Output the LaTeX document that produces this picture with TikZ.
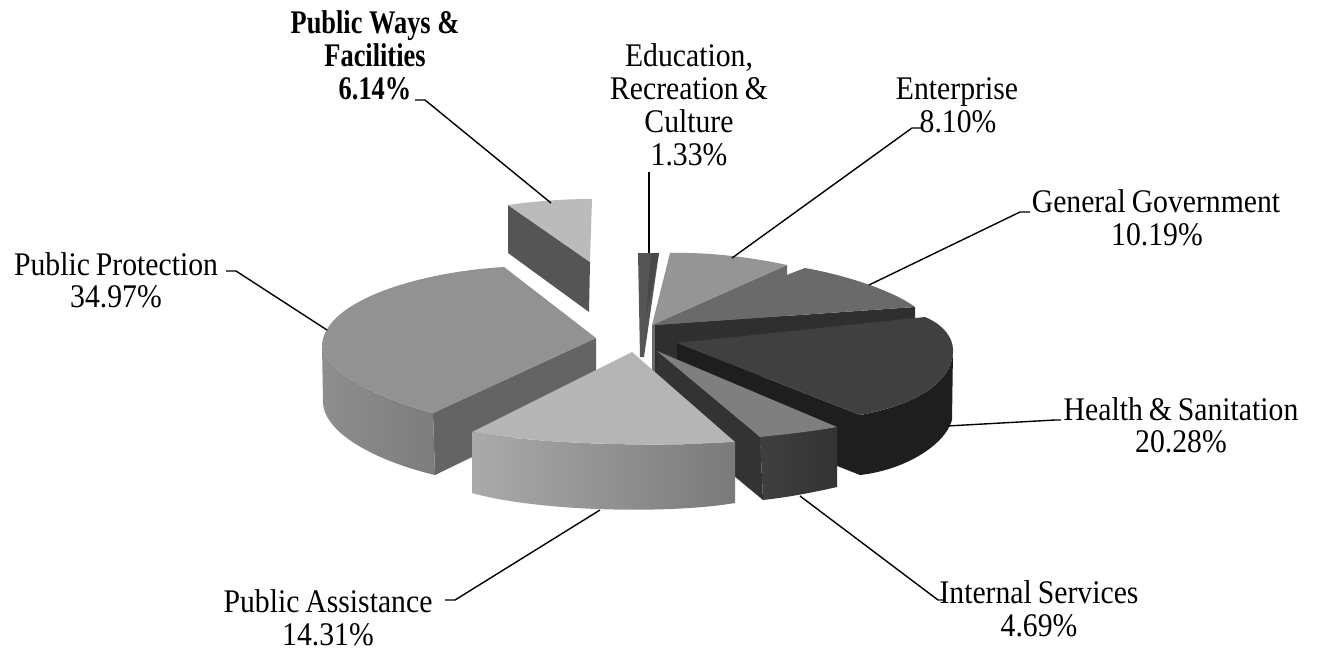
\documentclass[tikz,border=0pt]{standalone}
\usepackage{fontspec}
\setmainfont{Liberation Serif}[WordSpace=0.8, FakeStretch=0.9]
\newfontfamily\boldlblfont{Liberation Serif}[FakeStretch=0.8]
\definecolor{pwtop}{HTML}{BBBBBB}
\definecolor{pwside}{HTML}{555555}
\definecolor{edu}{HTML}{555555}
\definecolor{enttop}{HTML}{959595}
\definecolor{entside}{HTML}{6A6A6A}
\definecolor{ggtop}{HTML}{6A6A6A}
\definecolor{ggside}{HTML}{2F2F2F}
\definecolor{hstop}{HTML}{404040}
\definecolor{hsside}{HTML}{1E1E1E}
\definecolor{istop}{HTML}{7F7F7F}
\definecolor{isside}{HTML}{333333}
\definecolor{isfrontA}{HTML}{3F3F3F}
\definecolor{isfrontB}{HTML}{333333}
\definecolor{pptop}{HTML}{929292}
\definecolor{ppcut}{HTML}{646464}
\definecolor{ppsideA}{HTML}{8E8E8E}
\definecolor{ppsideB}{HTML}{7C7C7C}
\definecolor{patop}{HTML}{B5B5B5}
\definecolor{pasideA}{HTML}{AAAAAA}
\definecolor{pasideB}{HTML}{7A7A7A}
\begin{document}
\begin{tikzpicture}[x=1pt,y=-1pt,
  lbl/.style={font=\fontsize{33}{33}\selectfont, inner sep=0pt, anchor=base},
  lblb/.style={font=\boldlblfont\fontsize{33}{33}\selectfont\bfseries, inner sep=0pt, anchor=base},
  leader/.style={draw=black, line width=1.4pt}]
\useasboundingbox (0,0) rectangle (1321,664);
\fill[white] (0,0) rectangle (1321,664);

% ---- Public Ways & Facilities (exploded, back left)
\fill[pwside] (508,205) -- (590,262) -- (589,312) -- (508,253) -- cycle;
\fill[pwtop] (508,205) .. controls (535,201) and (565,199) .. (592,199) -- (590,262) -- cycle;

% ---- Education, Recreation & Culture
\fill[edu] (638,253) -- (659,253) -- (644,357) -- (640,357) -- cycle;
\fill[edu!85!black] (651,253) -- (659,253) -- (646,318) -- cycle;

% ---- Enterprise
\fill[entside] (652,325) -- (787,265) -- (787,320) -- (652,380) -- cycle;
\fill[enttop] (652,325) -- (670,253) .. controls (712,252) and (755,258) .. (787,265) -- cycle;

% ---- General Government
\fill[ggside] (655,325) -- (915,307) -- (915,365) -- (655,383) -- cycle;
\fill[ggtop] (655,325) -- (805,268) .. controls (850,276) and (895,292) .. (915,307) -- cycle;

% ---- Health & Sanitation
\fill[hsside] (677,343) -- (860,415) -- (860,475) -- (677,403) -- cycle;
\fill[hsside] (860,415) .. controls (910,406) and (953,385) .. (953,350) -- (952,420)
  .. controls (945,445) and (905,470) .. (860,475) -- cycle;
\fill[hstop] (677,343) -- (925,317) .. controls (944,325) and (953,338) .. (953,350)
  .. controls (953,385) and (910,406) .. (860,415) -- cycle;

% ---- Internal Services
\fill[isside] (657,351) -- (760,437) -- (763,500) -- (657,412) -- cycle;
\shade[left color=isfrontA, right color=isfrontB] (760,437) .. controls (790,434) and (815,431) .. (837,427)
  -- (837,487) .. controls (815,492) and (790,497) .. (763,500) -- cycle;
\fill[istop] (657,351) -- (837,427) .. controls (815,431) and (790,434) .. (760,437) -- cycle;

% ---- Public Protection
\fill[ppcut] (433,413) -- (596,338) -- (596,397) -- (435,475) -- cycle;
\shade[left color=ppsideA, right color=ppsideB] (322,345) .. controls (325,375) and (385,400) .. (433,413)
  -- (435,475) .. controls (380,462) and (325,435) .. (323,403) -- cycle;
\fill[pptop] (596,338) -- (504,267) .. controls (420,272) and (325,300) .. (322,345)
  .. controls (325,375) and (385,400) .. (433,413) -- cycle;

% ---- Public Assistance
\shade[left color=pasideA, right color=pasideB] (472,432) .. controls (540,445) and (670,447) .. (735,442)
  -- (735,503) .. controls (670,514) and (540,512) .. (472,493) -- cycle;
\fill[patop] (632,352) -- (735,442) .. controls (670,447) and (540,445) .. (472,432) -- cycle;

% ---- Labels
\node[lblb] (pw1) at (375,33) {Public Ways \&};
\node[lblb] (pw2) at (375,66) {Facilities};
\node[lblb] (pw3) at (375,99) {6.14\%};

\node[lbl] (ed1) at (689,66) {Education,};
\node[lbl] (ed2) at (689,99) {Recreation \&};
\node[lbl] (ed3) at (689,132) {Culture};
\node[lbl] (ed4) at (689,165) {1.33\%};

\node[lbl] (en1) at (957,99) {Enterprise};
\node[lbl] (en2) at (958,132) {8.10\%};

\node[lbl] (gg1) at (1156,212) {General Government};
\node[lbl] (gg2) at (1157,245) {10.19\%};

\node[lbl] (hs1) at (1181,420) {Health \& Sanitation};
\node[lbl] (hs2) at (1181,452) {20.28\%};

\node[lbl] (is1) at (1039,603) {Internal Services};
\node[lbl] (is2) at (1039,636) {4.69\%};

\node[lbl] (pa1) at (328,612) {Public Assistance};
\node[lbl] (pa2) at (328,645) {14.31\%};

\node[lbl] (pp1) at (116,275) {Public Protection};
\node[lbl] (pp2) at (116,307) {34.97\%};

% ---- Leader lines
\coordinate (pwS) at (551,203); \coordinate (pwB) at (425,100); \coordinate (pwE) at (415,100);
\coordinate (edS) at (649,253); \coordinate (edE) at (649,172);
\coordinate (enS) at (732,258); \coordinate (enB) at (912,128); \coordinate (enE) at (922,128);
\coordinate (ggS) at (869,285); \coordinate (ggB) at (1020,212); \coordinate (ggE) at (1030,212);
\coordinate (hsS) at (947,426); \coordinate (hsB) at (1055,420); \coordinate (hsE) at (1061,420);
\coordinate (isS) at (800,496); \coordinate (isB) at (938,600); \coordinate (isE) at (944,600);
\coordinate (paS) at (600,510); \coordinate (paB) at (455,600); \coordinate (paE) at (445,600);
\coordinate (ppS) at (327,330); \coordinate (ppB) at (236,271); \coordinate (ppE) at (226,271);

\draw[leader] (pwS) -- (pwB) -- (pwE);
\draw[leader] (edS) -- (edE);
\draw[leader] (enS) -- (enB) -- (enE);
\draw[leader] (ggS) -- (ggB) -- (ggE);
\draw[leader] (hsS) -- (hsB) -- (hsE);
\draw[leader] (isS) -- (isB) -- (isE);
\draw[leader] (paS) -- (paB) -- (paE);
\draw[leader] (ppS) -- (ppB) -- (ppE);
\end{tikzpicture}
\end{document}
